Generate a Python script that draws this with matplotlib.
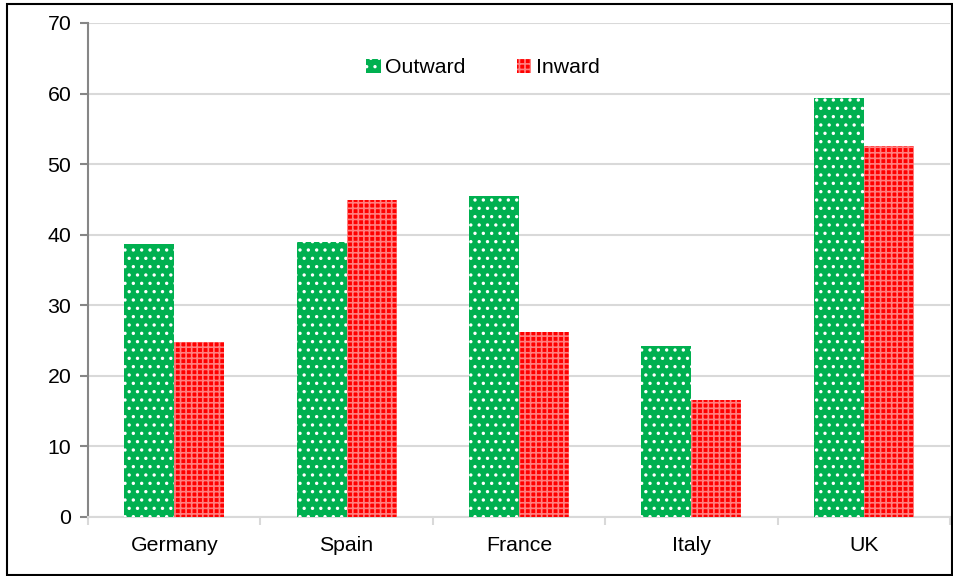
import numpy as np
import matplotlib
matplotlib.use("Agg")
import matplotlib.pyplot as plt
from matplotlib.patches import Rectangle

countries = ["Germany", "Spain", "France", "Italy", "UK"]
outward = [38.7, 39.0, 45.5, 24.2, 59.4]
inward = [24.8, 44.9, 26.2, 16.6, 52.6]
series_names = ["Outward", "Inward"]

plt.rcParams["font.family"] = ["Liberation Sans", "DejaVu Sans"]
plt.rcParams["hatch.linewidth"] = 1.2

fig = plt.figure(figsize=(9.54, 5.76), dpi=100)
ax = fig.add_axes([88 / 954, 59 / 576, 862 / 954, 494 / 576])

x = np.arange(len(countries))
w = 0.29
ax.bar(x - w / 2, outward, w, color="#00B050", edgecolor="white", linewidth=0,
       hatch="..", label=series_names[0], zorder=3)
ax.bar(x + w / 2, inward, w, color="#FF0000", edgecolor=(1, 1, 1, 0.5), linewidth=0,
       hatch="+++", label=series_names[1], zorder=3)

ax.set_xlim(-0.5, len(countries) - 0.5)
ax.set_ylim(0, 70)
ax.set_yticks(np.arange(0, 71, 10))
ax.set_xticks(x)
ax.set_xticklabels(countries)
ax.set_xticks(np.arange(-0.5, len(countries)), minor=True)
ax.tick_params(axis="x", which="major", length=0, pad=14, labelsize=15.3)
ax.tick_params(axis="x", which="minor", length=6, color="#D9D9D9", width=1.5)
ax.tick_params(axis="y", length=6, color="#868686", width=1.5, labelsize=15.3, pad=6)

ax.grid(axis="y", color="#D9D9D9", linewidth=1.5, zorder=0)
for s in ["top", "right"]:
    ax.spines[s].set_visible(False)
ax.spines["left"].set_color("#868686")
ax.spines["left"].set_linewidth(1.5)
ax.spines["bottom"].set_color("#D9D9D9")
ax.spines["bottom"].set_linewidth(1.5)

ax.legend(loc="center", bbox_to_anchor=(0.458, 0.909), ncol=2, frameon=False,
          fontsize=15.3, handlelength=0.7, handleheight=0.7, handletextpad=0.2,
          columnspacing=2.4)

fig.patches.append(Rectangle((7 / 954, 1 / 576), 945 / 954, 571 / 576, transform=fig.transFigure,
                             fill=False, edgecolor="black", linewidth=1.5))

fig.savefig("out.png", dpi=100)
